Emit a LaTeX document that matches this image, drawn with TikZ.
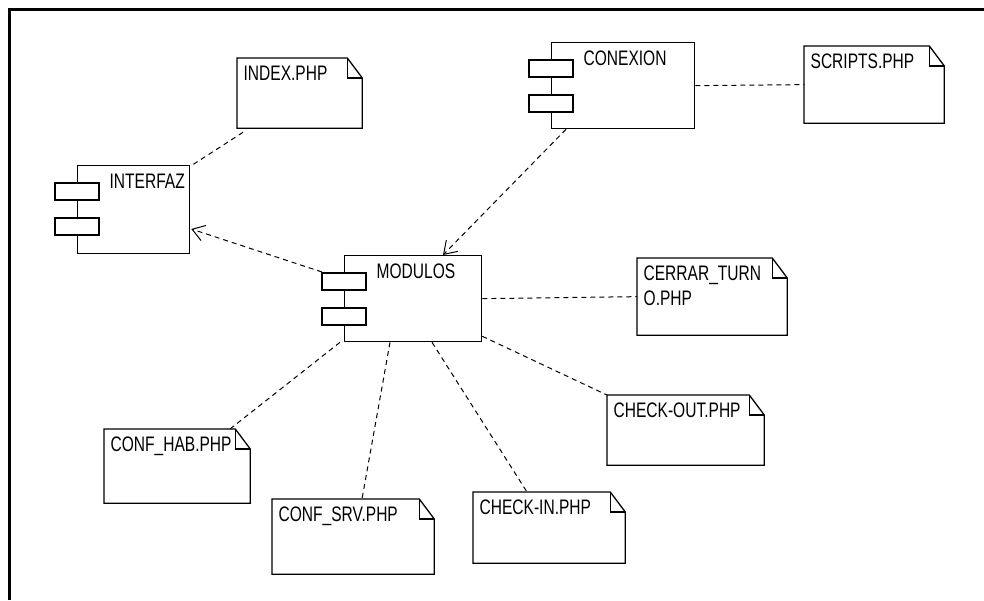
\documentclass[tikz,border=0pt]{standalone}
\usepackage{fontspec}
\setmainfont{Liberation Sans}[FakeStretch=0.74]
\usetikzlibrary{arrows.meta}

\begin{document}
\begin{tikzpicture}[x=0.5pt, y=-0.5pt, >={Straight Barb[length=6pt, width=8pt]}, line width=0.65pt, font=\fontsize{10.5}{12.5}\selectfont]
\tikzset{
	componente/.style={draw, fill=white, anchor=north west, inner sep=0pt,
		label={[anchor=base west, inner sep=0pt, shift={(32,23)}]north west:#1}},
	nota/.style={anchor=north west, inner sep=0pt,
		label={[anchor=base west, inner sep=0pt, shift={(6,22)}]north west:#1}},
	enlace/.style={dash pattern=on 2.5pt off 2pt, line width=0.5pt}
}
\useasboundingbox (0,0) rectangle (984,600);

% Frame
\draw[line width=1.5pt] (9,600) -- (9,9) -- (984,9);

% Components
\node[componente=INTERFAZ, minimum width=56pt, minimum height=44pt] (interfaz) at (77,165) {};
\node[componente=CONEXION, minimum width=71.5pt, minimum height=43pt] (conexion) at (551,42) {};
\node[componente=MODULOS, minimum width=68.5pt, minimum height=43pt] (modulos) at (344,255) {};

\foreach \c in {interfaz,conexion,modulos} {
	\draw[fill=white] ([shift={(-22,18)}]\c.north west) rectangle ([shift={(22,35)}]\c.north west);
	\draw[fill=white] ([shift={(-22,53)}]\c.north west) rectangle ([shift={(22,70)}]\c.north west);
}

% Notes (php files)
\node[nota=INDEX.PHP, minimum width=62pt, minimum height=34.5pt] (index) at (237,58) {};
\node[nota=SCRIPTS.PHP, minimum width=69.5pt, minimum height=38pt] (scripts) at (804,46) {};
\node[nota={\parbox[t]{72pt}{CERRAR\_TURN\\O.PHP}}, minimum width=74.5pt, minimum height=38pt] (cerrar) at (637,258) {};
\node[nota=CHECK-OUT.PHP, minimum width=78pt, minimum height=34.5pt] (checkout) at (607,395) {};
\node[nota=CHECK-IN.PHP, minimum width=75.5pt, minimum height=35pt] (checkin) at (473,492) {};
\node[nota=CONF\_SRV.PHP, minimum width=80.5pt, minimum height=37pt] (confsrv) at (272,499) {};
\node[nota=CONF\_HAB.PHP, minimum width=72.5pt, minimum height=36.5pt] (confhab) at (104,429) {};

\foreach \n in {index,scripts,cerrar,checkout,checkin,confsrv,confhab} {
	\draw (\n.north west) -- ([shift={(-15,0)}]\n.north east) -- ([shift={(0,20)}]\n.north east)
		-- (\n.south east) -- (\n.south west) -- cycle;
	\draw ([shift={(-15,0)}]\n.north east) |- ([shift={(0,20)}]\n.north east);
}

% Dependencies
\draw[enlace] ([shift={(6,4)}]index.south west) -- ([shift={(2,0)}]interfaz.north east);
\draw[enlace, ->] ([shift={(15,0)}]conexion.south west) -- ([shift={(99,0)}]modulos.north west);
\draw[enlace, ->] ([shift={(-22,17)}]modulos.north west) -- ([shift={(1,64)}]interfaz.north east);
\draw[enlace] (conexion.east) -- (scripts.west);
\draw[enlace] (modulos.east) -- (cerrar.west);
\draw[enlace] ([shift={(0,-6)}]modulos.south east) -- (checkout.north west);
\draw[enlace] ([shift={(88,0)}]modulos.south west) -- ([shift={(54,0)}]checkin.north west);
\draw[enlace] ([shift={(46,0)}]modulos.south west) -- ([shift={(90,0)}]confsrv.north west);
\draw[enlace] ([shift={(-4,0)}]modulos.south west) -- ([shift={(126,0)}]confhab.north west);

\end{tikzpicture}
\end{document}
